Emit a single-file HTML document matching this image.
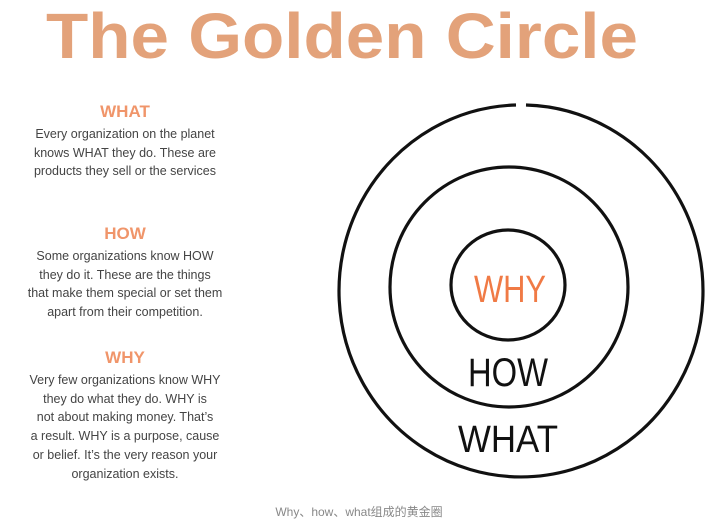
<!DOCTYPE html>
<html><head><style>
body{margin:0;width:718px;height:531px;background:#fff;overflow:hidden;position:relative;font-family:"Liberation Sans",sans-serif}
.col{position:absolute;left:10px;width:230px;text-align:center;color:#444;font-size:12.5px;line-height:18.8px}
.col b{display:block;color:#f0956a;font-size:17px;margin-bottom:3px}
.cap{position:absolute;top:503px;left:0;width:718px;text-align:center;color:#888;font-size:12px;font-family:"Liberation Sans","Noto Sans CJK SC",sans-serif}
</style></head><body>
<div class="col" style="top:103px"><b>WHAT</b>Every organization on the planet<br>knows WHAT they do. These are<br>products they sell or the services</div>
<div class="col" style="top:225px"><b>HOW</b>Some organizations know HOW<br>they do it. These are the things<br>that make them special or set them<br>apart from their competition.</div>
<div class="col" style="top:349px"><b>WHY</b>Very few organizations know WHY<br>they do what they do. WHY is<br>not about making money. That’s<br>a result. WHY is a purpose, cause<br>or belief. It’s the very reason your<br>organization exists.</div>
<svg style="position:absolute;left:0;top:0" width="718" height="531">
<text x="46" y="58" font-family="Liberation Sans,sans-serif" font-weight="bold" font-size="64" fill="#e3a27a" textLength="592" lengthAdjust="spacingAndGlyphs">The Golden Circle</text>
<g fill="none" stroke="#111" stroke-width="3.2">
<path d="M526 105 A182 186 0 1 1 516 105"/>
<ellipse cx="509" cy="287" rx="119" ry="120"/>
<ellipse cx="508" cy="285" rx="57" ry="55"/>
</g>
<g font-family="Liberation Sans,sans-serif" text-anchor="middle">
<text x="510" y="302" font-size="38" fill="#f07a45" textLength="72" lengthAdjust="spacingAndGlyphs">WHY</text>
<text x="508" y="386" font-size="40" fill="#111" textLength="80" lengthAdjust="spacingAndGlyphs">HOW</text>
<text x="508" y="452" font-size="38" fill="#111" textLength="100" lengthAdjust="spacingAndGlyphs">WHAT</text>
</g>
</svg>
<div class="cap">Why、how、what组成的黄金圈</div>
</body></html>
